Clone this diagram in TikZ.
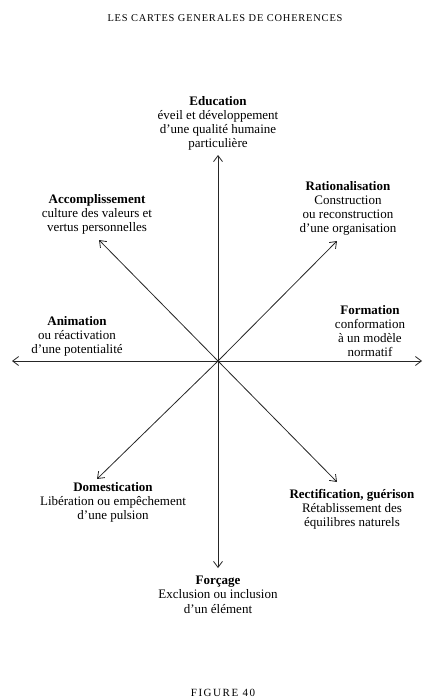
\documentclass[tikz,border=0pt]{standalone}
\usepackage{fontspec}
\setmainfont{Liberation Serif}
\usetikzlibrary{arrows.meta}
\begin{document}
\begin{tikzpicture}[x=1pt,y=-1pt,
  axis/.style={line width=0.8pt,draw=black!85,-{Straight Barb[length=6pt,width=9pt,line width=0.8pt]}},
  lab/.style={align=center,inner sep=0pt,font=\fontsize{13}{14.2}\selectfont,anchor=north},
  hdr/.style={inner sep=0pt,font=\fontsize{10.4}{11}\selectfont\addfontfeature{LetterSpace=8}}]
\useasboundingbox (0,0) rectangle (423,698);
% header and caption
\node[hdr] (title) at (225,18) {LES CARTES GENERALES DE COHERENCES};
\node[hdr,font=\fontsize{11}{12}\selectfont\addfontfeature{LetterSpace=14}] (cap) at (223,693) {FIGURE 40};
% centre of the star
\coordinate (O) at (218,361);
% arrow end points
\coordinate (N) at (218,155);
\coordinate (S) at (218,568);
\coordinate (W) at (12,361);
\coordinate (E) at (422,361);
\coordinate (NW) at (99,240);
\coordinate (NE) at (337,241);
\coordinate (SW) at (97,479);
\coordinate (SE) at (337,482);
\foreach \t in {N,S,W,E,NW,NE,SW,SE}
  \draw[axis] (O) -- (\t);
% labels
\node[lab] (edu) at (218,96) {\textbf{Education}\\éveil et développement\\d'une qualité humaine\\particulière};
\node[lab] (acc) at (97,194) {\textbf{Accomplissement}\\culture des valeurs et\\vertus personnelles};
\node[lab] (rat) at (348,181) {\textbf{Rationalisation}\\Construction\\ou reconstruction\\d'une organisation};
\node[lab] (for) at (370,305) {\textbf{Formation}\\conformation\\à un modèle\\normatif};
\node[lab] (ani) at (77,316) {\textbf{Animation}\\ou réactivation\\d'une potentialité};
\node[lab] (dom) at (113,482) {\textbf{Domestication}\\Libération ou empêchement\\d'une pulsion};
\node[lab] (rec) at (352,489) {\textbf{Rectification, guérison}\\Rétablissement des\\équilibres naturels};
\node[lab] (forc) at (218,576) {\textbf{Forçage}\\Exclusion ou inclusion\\d'un élément};
\end{tikzpicture}
\end{document}
